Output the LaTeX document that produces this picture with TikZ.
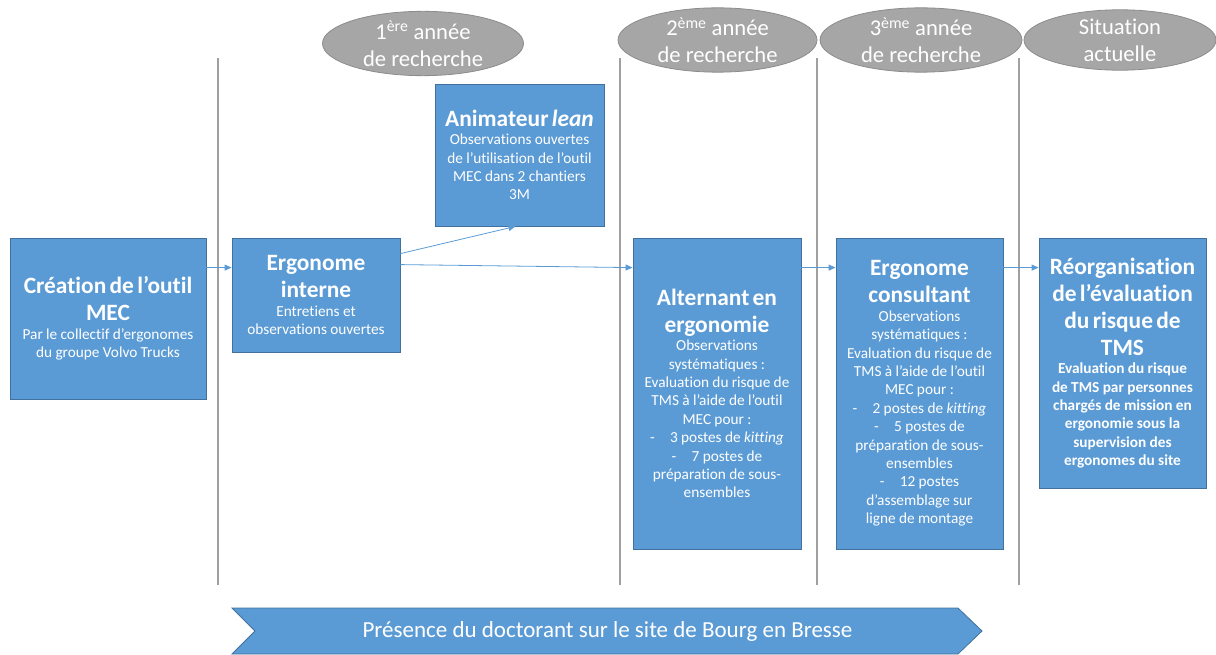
\documentclass[tikz,border=0pt]{standalone}
\usepackage{fontspec}
\setmainfont{Carlito}[Ligatures=NoCommon]
\usetikzlibrary{shapes.geometric,arrows.meta}

\definecolor{bleu}{HTML}{5B9BD5}
\definecolor{bordbleu}{HTML}{41719C}
\definecolor{gris}{HTML}{A6A6A6}
\definecolor{bordgris}{HTML}{8C8C8C}
\definecolor{trait}{HTML}{A0A0A0}

\newcommand{\titre}{\fontsize{23.4}{27}\selectfont\bfseries}
\newcommand{\corps}{\fontsize{15.3}{18.4}\selectfont}

\tikzset{
  boite/.style={draw=bordbleu, line width=0.8pt, fill=bleu, text=white,
    inner sep=0pt, align=center},
  bulle/.style={ellipse, draw=bordgris, line width=0.8pt, fill=gris, text=white,
    inner sep=0pt, align=center, font=\fontsize{22.6}{27}\selectfont},
  fleche/.style={draw=bleu, line width=0.8pt, -{Triangle[length=7pt,width=6pt]}},
  separation/.style={draw=trait, line width=1.2pt},
}

\begin{document}
\begin{tikzpicture}[x=1pt,y=-1pt]
  \useasboundingbox (0,0) rectangle (1216,655);

  % separations between the years
  \foreach \x in {218,620,817,1019}
    \draw[separation] (\x,58) -- (\x,585);

  % the years
  \node[bulle, minimum width=201pt, minimum height=59pt] (an1) at (423,43.5)
    {1\textsuperscript{ère} année\\de recherche};
  \node[bulle, minimum width=199pt, minimum height=60pt] (an2) at (717.5,40)
    {2\textsuperscript{ème} année\\de recherche};
  \node[bulle, minimum width=202pt, minimum height=60pt] (an3) at (921,40)
    {3\textsuperscript{ème} année\\de recherche};
  \node[bulle, minimum width=192pt, minimum height=60pt] (actuel) at (1120,40)
    {Situation\\actuelle};

  % the steps
  \node[boite, minimum width=196pt, minimum height=161pt, text width=188pt] (creation) at (108,318.5)
    {{\titre Création de l’outil\\MEC\par}{\corps Par le collectif d’ergonomes\\du groupe Volvo Trucks\par}};
  \node[boite, minimum width=168pt, minimum height=114pt, text width=160pt] (interne) at (316,295)
    {{\titre Ergonome\\interne\par}{\corps Entretiens et\\observations ouvertes\par}};
  \node[boite, minimum width=169pt, minimum height=142pt, text width=161pt] (animateur) at (519.5,155)
    {{\titre Animateur \textit{lean}\par}{\corps Observations ouvertes\\de l’utilisation de l’outil\\MEC dans 2 chantiers\\3M\par}};
  \node[boite, minimum width=168pt, minimum height=311pt, text width=162pt] (alternant) at (717,393.5)
    {{\titre Alternant en\\ergonomie\par}{\corps Observations\\systématiques :\\Evaluation du risque de\\TMS à l’aide de l’outil\\MEC pour :\\-\hspace{1em}3 postes de \textit{kitting}\\-\hspace{1em}7 postes de\\préparation de sous-\\ensembles\par}};
  \node[boite, minimum width=167pt, minimum height=311pt, text width=161pt] (consultant) at (919.5,393.5)
    {{\titre Ergonome\\consultant\par}{\corps Observations\\systématiques :\\Evaluation du risque de\\TMS à l’aide de l’outil\\MEC pour :\\-\hspace{1em}2 postes de \textit{kitting}\\-\hspace{1em}5 postes de\\préparation de sous-\\ensembles\\-\hspace{1em}12 postes\\d’assemblage sur\\ligne de montage\par}};
  \node[boite, minimum width=167pt, minimum height=250pt, text width=161pt] (reorga) at (1122.5,363)
    {{\titre Réorganisation\\de l’évaluation\\du risque de\\TMS\par}{\corps\bfseries Evaluation du risque\\de TMS par personnes\\chargés de mission en\\ergonomie sous la\\supervision des\\ergonomes du site\par}};

  % arrows
  \draw[fleche] ([yshift=-30pt]creation.north east) -- ([yshift=-30pt]interne.north west);
  \draw[fleche] ([yshift=-16pt]interne.north east) -- ([xshift=-4pt]animateur.south);
  \draw[fleche] ([yshift=-27pt]interne.north east) -- ([yshift=-30pt]alternant.north west);
  \draw[fleche] ([yshift=-30pt]alternant.north east) -- ([yshift=-30pt]consultant.north west);
  \draw[fleche] ([yshift=-30pt]consultant.north east) -- ([yshift=-30pt]reorga.north west);

  % presence on site
  \draw[draw=bordbleu, line width=0.8pt, fill=bleu]
    (232,608) -- (958,608) -- (982,631) -- (958,654) -- (232,654) -- (255,631) -- cycle;
  \node[text=white, font=\fontsize{23}{27}\selectfont] (presence) at (607.5,631)
    {Présence du doctorant sur le site de Bourg en Bresse};
\end{tikzpicture}
\end{document}
